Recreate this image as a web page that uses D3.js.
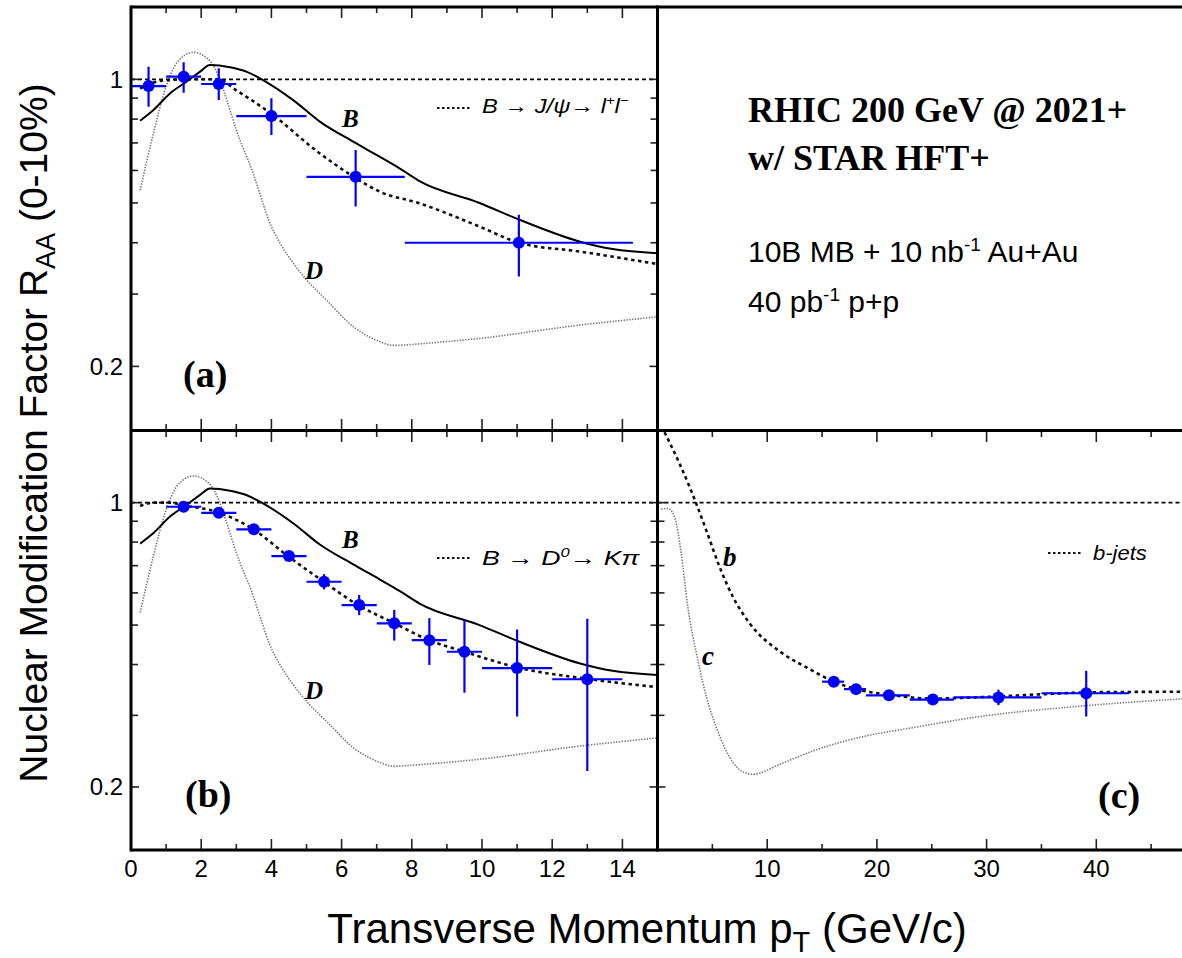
<!DOCTYPE html>
<html><head><meta charset="utf-8">
<script src="https://cdn.jsdelivr.net/npm/d3@7"></script>
<style>body{margin:0;background:#fff}svg{display:block}</style>
</head><body><svg id="chart" width="1182" height="958"></svg>
<script>
// ---------------- data ----------------
// model curves: [pT, R_AA]
const bQuench = [[0.26,0.793],[0.64,0.842],[1.11,0.924],[1.58,0.987],[1.96,1.043],[2.25,1.083],[2.82,1.07],[3.3,1.043],[3.76,0.996],[4.62,0.89],[5.38,0.789],[6.33,0.705],[7.08,0.648],[7.65,0.607],[8.22,0.565],[9.93,0.5],[11.07,0.455],[12.77,0.403],[13.72,0.386],[15,0.377]];
const dQuench = [[0.26,0.537],[0.64,0.74],[1.0,0.96],[1.3,1.095],[1.77,1.163],[2.2,1.12],[2.53,1.0],[2.73,0.89],[3.0,0.753],[3.48,0.59],[3.73,0.508],[3.92,0.455],[4.24,0.40],[4.62,0.357],[5.0,0.325],[5.57,0.29],[6.33,0.25],[7.08,0.23],[7.46,0.225],[8.5,0.228],[9.93,0.234],[12.77,0.252],[15,0.264]];
const bToJpsi = [[0.26,0.95],[0.8,0.99],[1.5,1.0],[2.49,1.0],[3.0,0.94],[3.95,0.83],[5.38,0.66],[6.33,0.58],[7.08,0.533],[8.22,0.499],[9.93,0.438],[11.05,0.40],[12.77,0.381],[15,0.355]];
const bToD0 = [[0.26,0.981],[0.64,1.0],[1.11,1.0],[1.49,0.985],[2.53,0.944],[3.48,0.86],[4.47,0.739],[5.49,0.639],[6.47,0.56],[7.51,0.505],[8.49,0.459],[9.5,0.43],[10.97,0.394],[12.98,0.369],[15,0.352]];
const bJet = [[0.64,1.49],[2.0,1.249],[2.92,1.094],[3.5,1.0],[4.44,0.856],[5.65,0.696],[6.87,0.587],[8.4,0.505],[11.4,0.426],[13.7,0.392],[16.07,0.363],[18.1,0.348],[21.1,0.337],[25.1,0.330],[30,0.333],[35,0.338],[40,0.342],[50,0.343]];
const cJet = [[0.33,0.963],[0.92,0.968],[1.55,0.923],[2.16,0.751],[2.76,0.555],[3.68,0.41],[4.5,0.33],[5.35,0.281],[6.56,0.237],[7.78,0.218],[8.69,0.215],[11.4,0.229],[14.5,0.247],[19,0.267],[23,0.279],[29.4,0.298],[38.5,0.316],[50,0.332]];

// projected measurements, panel (a): B -> J/psi -> l+l-
const jpsiPt    = [0.5, 1.5, 2.5, 4, 6.4, 11.05];
const jpsiBinLo = [0, 1, 2, 3, 5, 7.8];
const jpsiBinHi = [1, 2, 3, 5, 7.8, 14.3];
const jpsiRaa   = [0.963, 1.015, 0.974, 0.814, 0.579, 0.40];
const jpsiErrLo = [0.858, 0.928, 0.89, 0.732, 0.49, 0.331];
const jpsiErrHi = [1.073, 1.10, 1.064, 0.899, 0.673, 0.468];

// panel (b): B -> D0 -> K pi
const d0Pt    = [1.5, 2.5, 3.5, 4.5, 5.5, 6.5, 7.5, 8.5, 9.5, 11, 13];
const d0BinLo = [1, 2, 3, 4, 5, 6, 7, 8, 9, 10, 12];
const d0BinHi = [2, 3, 4, 5, 6, 7, 8, 9, 10, 12, 14];
const d0Raa   = [0.977, 0.944, 0.86, 0.739, 0.639, 0.56, 0.505, 0.459, 0.43, 0.392, 0.368];
const d0ErrLo = [0.967, 0.934, 0.85, 0.725, 0.612, 0.529, 0.458, 0.399, 0.341, 0.298, 0.219];
const d0ErrHi = [0.987, 0.954, 0.87, 0.753, 0.667, 0.593, 0.545, 0.52, 0.515, 0.488, 0.518];

// panel (c): b-jets
const jetPt    = [16.07, 18.1, 21.1, 25.1, 31.08, 39.08];
const jetBinLo = [15, 17, 19, 23, 27, 35];
const jetBinHi = [17, 19, 23, 27, 35, 43];
const jetRaa   = [0.363, 0.348, 0.336, 0.328, 0.332, 0.34];
const jetErrLo = [0.355, 0.342, 0.331, 0.323, 0.318, 0.298];
const jetErrHi = [0.371, 0.354, 0.341, 0.333, 0.347, 0.386];

// ticks
const xMajorLeft = [0,2,4,6,8,10,12,14];
const xMinorLeft = [1,3,5,7,9,11,13,15];
const xMajorRight = [10,20,30,40,50];
const xMinorRight = [5,15,25,35,45];
const xLabelsLeft = [0,2,4,6,8,10,12,14];
const xLabelsRight = [10,20,30,40];
const yMajor = [0.2, 1];
const yMinor = [0.3,0.4,0.5,0.6,0.7,0.8,0.9];

// ---------------- drawing ----------------
const SANS = "'Liberation Sans', Arial, Helvetica, sans-serif";
const SERIF = "'Liberation Serif', 'Times New Roman', Times, serif";
const BLUE = "#0000ff";
const svg = d3.select("#chart");

const xL = d3.scaleLinear().domain([0,15]).range([131,657.5]);
const xR = d3.scaleLinear().domain([0,50]).range([657.5,1206]);
const yA = d3.scaleLog().domain([0.14,1.5]).range([430,7]);
const yB = d3.scaleLog().domain([0.14,1.5]).range([850,431]);

const panels = {
  a: {x:xL, y:yA},
  b: {x:xL, y:yB},
  c: {x:xR, y:yB}
};

const defs = svg.append("defs");
Object.entries(panels).forEach(([k,p])=>{
  const [x0,x1]=p.x.range(), [y1,y0]=p.y.range();
  defs.append("clipPath").attr("id","clip-"+k).append("rect")
    .attr("x",x0).attr("y",y0).attr("width",Math.min(x1,1182)-x0).attr("height",y1-y0);
  p.g = svg.append("g").attr("clip-path",`url(#clip-${k})`);
});

function ticks(p, xMaj, xMin){
  const [x0,x1]=p.x.range(), [yb,yt]=p.y.range();
  const g = svg.append("g").attr("stroke","#222").attr("stroke-width",1.6);
  const addX = (vals,len)=>{
    vals.forEach(v=>{
      const xx=p.x(v);
      g.append("line").attr("x1",xx).attr("x2",xx).attr("y1",yb).attr("y2",yb-len);
      g.append("line").attr("x1",xx).attr("x2",xx).attr("y1",yt).attr("y2",yt+len);
    });
  };
  addX(xMaj,11); addX(xMin,6);
  const addY = (vals,len)=>{
    vals.forEach(v=>{
      const yy=p.y(v);
      g.append("line").attr("x1",x0).attr("x2",x0+len).attr("y1",yy).attr("y2",yy);
      if (x1 < 1182) g.append("line").attr("x1",x1).attr("x2",x1-len).attr("y1",yy).attr("y2",yy);
    });
  };
  addY(yMajor,8); addY(yMinor,7);
}
ticks(panels.a, xMajorLeft, xMinorLeft);
ticks(panels.b, xMajorLeft, xMinorLeft);
ticks(panels.c, xMajorRight, xMinorRight);

function curve(p, data, style){
  const line = d3.line().x(d=>p.x(d[0])).y(d=>p.y(d[1])).curve(d3.curveMonotoneX);
  p.g.append("path").attr("d",line(data)).attr("fill","none")
    .attr("stroke",style.color).attr("stroke-width",style.w)
    .attr("stroke-dasharray",style.dash||null);
}
const solid = {color:"#000", w:2};
const dashed = {color:"#111", w:2.6, dash:"3.5,3.5"};
const dotted = {color:"#777", w:1.6, dash:"1.4,1.4"};
const unity = {color:"#000", w:1.8, dash:"4,3"};

// unity lines
["a","b","c"].forEach(k=>{
  const p=panels[k];
  curve(p, [[p.x.domain()[0],1],[p.x.domain()[1],1]], unity);
});
curve(panels.a, dQuench, dotted);
curve(panels.a, bQuench, solid);
curve(panels.a, bToJpsi, dashed);
curve(panels.b, dQuench, dotted);
curve(panels.b, bQuench, solid);
curve(panels.b, bToD0, dashed);
curve(panels.c, cJet, dotted);
curve(panels.c, bJet, dashed);

function points(p, pt, lo, hi, v, elo, ehi){
  const g = p.g.append("g").attr("stroke",BLUE).attr("stroke-width",2.2);
  pt.forEach((d,i)=>{
    g.append("line").attr("x1",p.x(lo[i])).attr("x2",p.x(hi[i])).attr("y1",p.y(v[i])).attr("y2",p.y(v[i]));
    g.append("line").attr("x1",p.x(d)).attr("x2",p.x(d)).attr("y1",p.y(elo[i])).attr("y2",p.y(ehi[i]));
    g.append("circle").attr("cx",p.x(d)).attr("cy",p.y(v[i])).attr("r",6).attr("fill",BLUE).attr("stroke","none");
  });
}
points(panels.a, jpsiPt, jpsiBinLo, jpsiBinHi, jpsiRaa, jpsiErrLo, jpsiErrHi);
points(panels.b, d0Pt, d0BinLo, d0BinHi, d0Raa, d0ErrLo, d0ErrHi);
points(panels.c, jetPt, jetBinLo, jetBinHi, jetRaa, jetErrLo, jetErrHi);

// frames
const fr = svg.append("g").attr("stroke","#000").attr("stroke-width",3).attr("fill","none");
fr.append("line").attr("x1",xL(0)).attr("x2",1182).attr("y1",7).attr("y2",7);
fr.append("line").attr("x1",xL(0)).attr("x2",1182).attr("y1",430.5).attr("y2",430.5);
fr.append("line").attr("x1",xL(0)).attr("x2",1182).attr("y1",850).attr("y2",850);
fr.append("line").attr("x1",xL(0)).attr("x2",xL(0)).attr("y1",5.5).attr("y2",851.5);
fr.append("line").attr("x1",657.5).attr("x2",657.5).attr("y1",5.5).attr("y2",851.5);

// tick labels
const lab = svg.append("g").attr("font-family",SANS).attr("font-size",24).attr("fill","#000");
xLabelsLeft.forEach(v=>lab.append("text").attr("x",xL(v)).attr("y",877).attr("text-anchor","middle").text(v));
xLabelsRight.forEach(v=>lab.append("text").attr("x",xR(v)).attr("y",877).attr("text-anchor","middle").text(v));
[yA,yB].forEach(y=>{
  yMajor.forEach(v=>lab.append("text").attr("x",123).attr("y",y(v)+8.5).attr("text-anchor","end").text(v));
});

// axis titles
const xt = svg.append("text").attr("font-family",SANS).attr("font-size",42)
  .attr("x",647).attr("y",943).attr("text-anchor","middle");
xt.append("tspan").text("Transverse Momentum p");
xt.append("tspan").attr("font-size",29).attr("dy",9).text("T");
xt.append("tspan").attr("dy",-9).text(" (GeV/c)");

const yt = svg.append("text").attr("font-family",SANS).attr("font-size",39)
  .attr("transform","translate(47,433) rotate(-90)").attr("text-anchor","middle");
yt.append("tspan").text("Nuclear Modification Factor R");
yt.append("tspan").attr("font-size",27).attr("dy",8).text("AA");
yt.append("tspan").attr("dy",-8).text(" (0-10%)");

// curve labels
function lbl(x,y,t,size,style){
  svg.append("text").attr("x",x).attr("y",y).attr("font-family",SERIF).attr("font-weight","bold")
    .attr("font-style",style||"italic").attr("font-size",size).text(t);
}
lbl(342,126.7,"B",25); lbl(305,279,"D",25);
lbl(342,548,"B",25); lbl(305,699,"D",25);
lbl(723,566,"b",27); lbl(702,665,"c",27);
lbl(183,386.5,"(a)",38,"normal");
lbl(185,806.5,"(b)",38,"normal");
lbl(1098,808,"(c)",38,"normal");

// legends (ROOT-style wide sans text, drawn with a horizontal stretch)
function legendLine(x1,x2,y){
  svg.append("line").attr("x1",x1).attr("x2",x2).attr("y1",y).attr("y2",y)
    .attr("stroke","#111").attr("stroke-width",2).attr("stroke-dasharray","2.5,2.5");
}
function legendText(x,y,sx){
  return svg.append("g").attr("transform",`translate(${x},${y}) scale(${sx},1)`)
    .append("text").attr("font-family",SANS).attr("font-size",21).attr("font-style","italic");
}
legendLine(437,470,108);
const la = legendText(482,113,1.13);
la.append("tspan").text("B ");
la.append("tspan").attr("font-style","normal").text("\u2192 ");
la.append("tspan").text("J/\u03C8");
la.append("tspan").attr("font-style","normal").text("\u2192 ");
la.append("tspan").text("l");
la.append("tspan").attr("font-size",13).attr("dy",-8).text("+");
la.append("tspan").attr("dy",8).text("l");
la.append("tspan").attr("font-size",13).attr("dy",-8).text("\u2212");

legendLine(437,470,558);
const lb = legendText(482,565,1.27);
lb.append("tspan").text("B ");
lb.append("tspan").attr("font-style","normal").text("\u2192 ");
lb.append("tspan").text("D");
lb.append("tspan").attr("font-size",13).attr("dy",-8).text("0");
lb.append("tspan").attr("dy",8).attr("font-style","normal").text("\u2192 ");
lb.append("tspan").text("K\u03C0");

legendLine(1048,1083,553);
const lc = legendText(1093,560,1.05);
lc.text("b-jets");

// header text
const ht = svg.append("g");
ht.append("text").attr("x",748).attr("y",121.5).attr("font-family",SERIF).attr("font-weight","bold").attr("font-size",36).text("RHIC 200 GeV @ 2021+");
ht.append("text").attr("x",748).attr("y",170).attr("font-family",SERIF).attr("font-weight","bold").attr("font-size",36).text("w/ STAR HFT+");
const t3 = ht.append("text").attr("x",748).attr("y",262).attr("font-family",SANS).attr("font-size",30);
t3.append("tspan").text("10B MB + 10 nb");
t3.append("tspan").attr("font-size",19).attr("dy",-11).text("-1");
t3.append("tspan").attr("dy",11).text(" Au+Au");
const t4 = ht.append("text").attr("x",748).attr("y",312).attr("font-family",SANS).attr("font-size",30);
t4.append("tspan").text("40 pb");
t4.append("tspan").attr("font-size",19).attr("dy",-11).text("-1");
t4.append("tspan").attr("dy",11).text(" p+p");
</script></body></html>
